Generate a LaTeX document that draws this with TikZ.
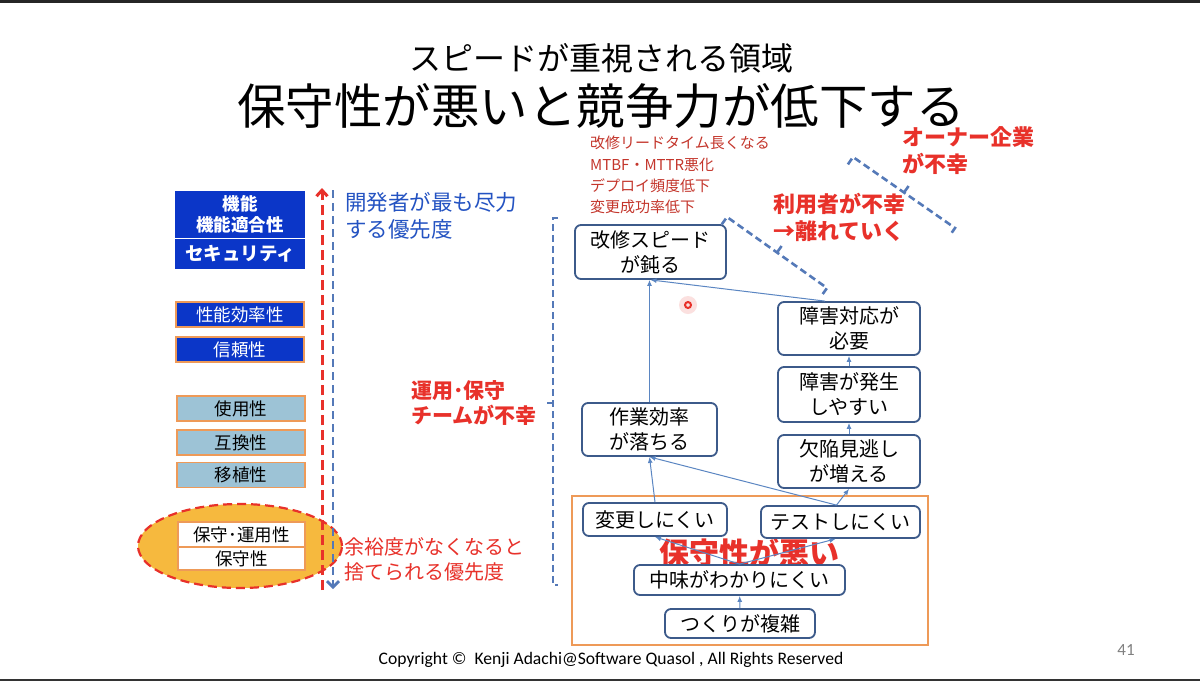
\documentclass[tikz,border=0pt]{standalone}
\usepackage{fontspec}
\setmainfont{Noto Sans CJK JP}
\newfontfamily\latinfont{Carlito}
\usetikzlibrary{calc,shapes.geometric,arrows.meta}
\definecolor{darkblue}{HTML}{0B36C8}
\definecolor{lightblue}{HTML}{9DC3D6}
\definecolor{boxorange}{HTML}{EE9A58}
\definecolor{ellfill}{HTML}{F6B93E}
\definecolor{alertred}{HTML}{E8312A}
\definecolor{listred}{HTML}{C4362C}
\definecolor{nodeline}{HTML}{3C5A8A}
\definecolor{arrowblue}{HTML}{5B86C2}
\definecolor{dashblue}{HTML}{5479B8}
\definecolor{textblue}{HTML}{2453C2}
\newcommand{\fsz}[2]{\fontsize{#1}{#2}\selectfont}

\begin{document}
\begin{tikzpicture}[x=1pt, y=-1pt,
    every node/.style={inner sep=0pt},
    prio/.style={draw=boxorange, line width=1.6pt, align=center, minimum width=128pt, minimum height=25pt, font=\fsz{17.5}{21}},
    topprio/.style={prio, fill=darkblue, text=white, draw=darkblue},
    effect/.style={draw=nodeline, line width=1.8pt, rounded corners=6pt, fill=white, align=center, font=\fsz{20}{25}},
    link/.style={-{Latex[length=6pt,width=5pt]}, arrowblue, line width=1pt},
    brk/.style={dashblue, dash pattern=on 7pt off 4pt, line width=2.6pt},
    alert/.style={text=alertred, font=\bfseries\fsz{22}{27}, align=left, anchor=north west}]
    \useasboundingbox (0,0) rectangle (1200,681);
    \fill[white] (0,0) rectangle (1200,681);
    \fill[black!85] (0,0) rectangle (1200,2.5);
    \fill[black!80] (0,678.5) rectangle (1200,681);

        % Title
        \node[font=\fsz{32}{32}] (sub) at (601,58) {スピードが重視される領域};
        \node[font=\fsz{48.5}{48.5}] (title) at (601,106) {保守性が悪いと競争力が低下する};

        % Quality characteristics (left column)
        \node[topprio, minimum height=45pt, font=\bfseries\fsz{17.5}{21}] (kinou) at (240,214.5) {機能\\機能適合性};
        \node[topprio, minimum height=28pt, font=\bfseries\fsz{18.5}{21}] (security) at (240,254) {セキュリティ};
        \node[prio, fill=darkblue, text=white] (seino) at (240,314.5) {性能効率性};
        \node[prio, fill=darkblue, text=white] (shinrai) at (240,349.5) {信頼性};
        \node[prio, fill=lightblue] (shiyou) at (241,408.5) {使用性};
        \node[prio, fill=lightblue] (gokan) at (241,442.5) {互換性};
        \node[prio, fill=lightblue] (ishoku) at (241,475) {移植性};

        % Maintainability, thrown away first
        \node[ellipse, draw=alertred, fill=ellfill, dash pattern=on 9pt off 5pt, line width=2.2pt, minimum width=204pt, minimum height=84pt] (ell) at (240,546) {};
        \node[prio, fill=white, minimum width=127pt] (unyousei) at (241.5,534.5) {保守･運用性};
        \node[prio, fill=white, minimum width=127pt, minimum height=23pt] (hoshusei) at (241.5,558.5) {保守性};

        % Priority arrows
        \coordinate (redtop) at (322,188);
        \coordinate (redbot) at (322,590);
        \coordinate (bluetop) at (333,190);
        \coordinate (bluebot) at (333,589);
        \draw[alertred, line width=3pt, dash pattern=on 10pt off 5pt, -{Straight Barb[length=6pt,width=11pt]}] (redbot) -- (redtop);
        \draw[dashblue, line width=2.8pt, dash pattern=on 8pt off 5pt, -{Straight Barb[length=6pt,width=12pt]}] (bluetop) -- (bluebot);
        \node[text=textblue, font=\fsz{21.5}{27}, align=left, anchor=north west] (jinryoku) at (345,192) {開発者が最も尽力\\する優先度};
        \node[text=alertred, font=\fsz{20}{25}, align=left, anchor=north west] (suterare) at (344,537) {余裕度がなくなると\\捨てられる優先度};

        % Ops team bracket
        \node[alert, font=\bfseries\fsz{21}{25}] (team) at (411,380) {運用･保守\\チームが不幸};
        \draw[brk] (558,218) -- (553,218) -- (553,585) -- (558,585);
        \draw[dashblue, line width=2.6pt] (553,403) -- (547,403);

        % Maintainability frame
        \draw[boxorange, line width=2pt] (572,496) rectangle (928,645);
        \node[text=alertred, font=\bfseries\fsz{30}{30}] (warui) at (749,553) {保守性が悪い};

        % Cause and effect nodes
        \node[effect, minimum width=151pt, minimum height=54pt] (kaishu) at (650.5,252) {改修スピード\\が鈍る};
        \node[effect, minimum width=142pt, minimum height=53pt] (taiou) at (849,328.5) {障害対応が\\必要};
        \node[effect, minimum width=142pt, minimum height=55pt] (hassei) at (849,394.5) {障害が発生\\しやすい};
        \node[effect, minimum width=142pt, minimum height=53pt] (kekkan) at (849,461.5) {欠陥見逃し\\が増える};
        \node[effect, minimum width=135pt, minimum height=53pt] (sagyou) at (649.5,429.5) {作業効率\\が落ちる};
        \node[effect, minimum width=144pt, minimum height=33pt] (henkou) at (655,519.5) {変更しにくい};
        \node[effect, minimum width=159pt, minimum height=32pt] (test) at (840.5,522) {テストしにくい};
        \node[effect, minimum width=211pt, minimum height=30pt] (nakami) at (739.5,580) {中味がわかりにくい};
        \node[effect, minimum width=150pt, minimum height=29pt] (tsukuri) at (740,623.5) {つくりが複雑};

        % Arrows
        \draw[link] (tsukuri) -- (nakami);
        \draw[link] (nakami.north) -- (henkou.south);
        \draw[link] (nakami.north) -- ([xshift=-5pt]test.south);
        \draw[link] (henkou.north) -- (sagyou.south);
        \draw[link] ([xshift=-4pt]test.north) -- (sagyou.south);
        \draw[link] ([xshift=-4pt]test.north) -- (kekkan.south);
        \draw[link] (kekkan) -- (hassei);
        \draw[link] (hassei) -- (taiou);
        \draw[link] ([xshift=-24pt]taiou.north) -- (kaishu.south);
        \draw[link] (sagyou.north) -- (sagyou.north |- kaishu.south);

        % Metrics
        \node[text=listred, font=\fsz{15}{21.3}, align=left, anchor=north west] (metrics) at (590,136) {改修リードタイム長くなる\\MTBF・MTTR悪化\\デプロイ頻度低下\\変更成功率低下};

        % Users and owner brackets
        \draw[brk] (721.8,224.3) -- (727,217) -- (827,288) -- (821.8,295.3);
        \draw[dashblue, line width=2.6pt] (777,252.5) -- (781.6,246);
        \node[alert] (riyousha) at (773,193) {利用者が不幸\\→離れていく};
        \draw[brk] (847.9,164.4) -- (853,157) -- (955,228) -- (949.9,235.4);
        \draw[dashblue, line width=2.6pt] (904,192.5) -- (908.6,186);
        \node[alert] (owner) at (902,126) {オーナー企業\\が不幸};

        % Pointer
        \fill[alertred!15] (688,305) circle (9);
        \draw[alertred, line width=2pt] (688,305) circle (3);

        % Footer
        \node[font=\latinfont\fsz{17.6}{17.6}] (copy) at (611,660) {Copyright ©\ \ Kenji Adachi@Software Quasol , All Rights Reserved};
        \node[font=\latinfont\fsz{17}{17}, text=black!50] (page) at (1126,650) {41};

    \end{tikzpicture}
\end{document}
